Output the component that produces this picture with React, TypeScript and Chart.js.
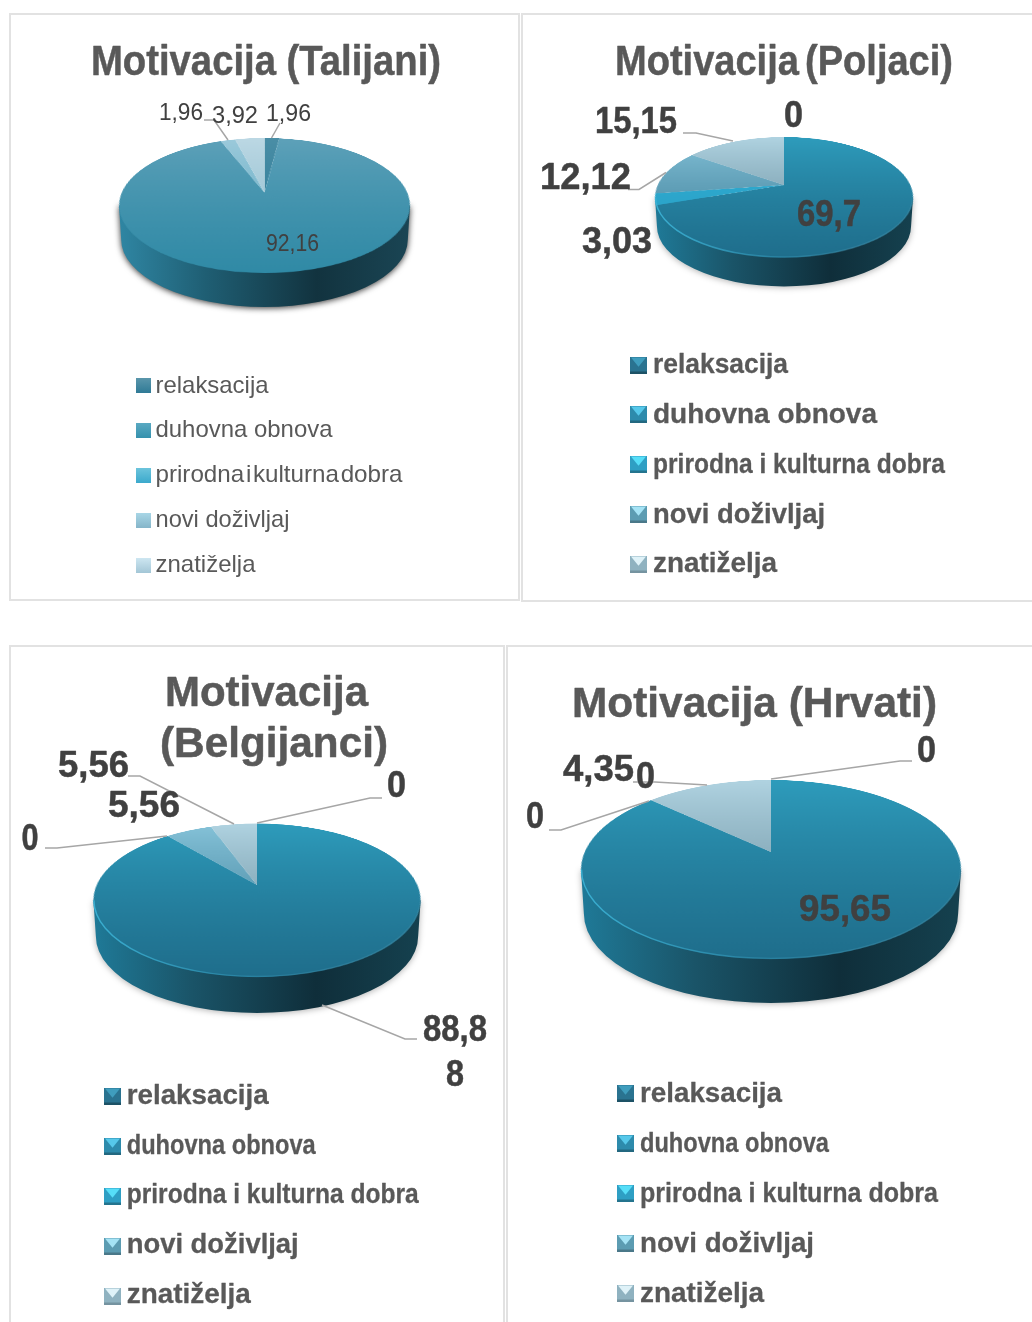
import React, { useEffect, useRef } from "react";
import { Chart, registerables } from "chart.js";

Chart.register(...registerables);

// ---------- data ----------
const categories = ["relaksacija", "duhovna obnova", "prirodna i kulturna dobra", "novi doživljaj", "znatiželja"];
const talijaniValues = [1.96, 92.16, 0, 1.96, 3.92];
const poljaciValues = [0, 69.7, 3.03, 12.12, 15.15];
const belgijanciValues = [0, 88.88, 0, 5.56, 5.56];
// The printed label says 4,35 / 95,65, but the wedge in the picture spans about 13 %;
// the slice follows the picture and the label text follows what is printed.
const hrvatiValues = [0, 86.96, 0, 0, 13.04];

const talijaniLabels = ["1,96", "92,16", "1,96", "3,92"];
const poljaciLabels = ["0", "69,7", "3,03", "12,12", "15,15"];
const belgijanciLabels = ["0", "88,8", "8", "0", "5,56", "5,56"];
const hrvatiLabels = ["0", "95,65", "0", "0", "4,35"];

// ---------- styles ----------
const FONT = '"Liberation Sans", Arial, sans-serif';
const SOFT = [
  ["#4a8ea6", "#2a7a96"],
  ["#5ea1b9", "#308aa6"],
  ["#4fb5d2", "#3a9fc0"],
  ["#9ccadb", "#5fa8c1"],
  ["#bcd8e4", "#8dbccd"],
];
const DEEP = [
  ["#2b7f9c", "#1c6480"],
  ["#2e9cbc", "#1f6e8c"],
  ["#2fb0d6", "#2a9fc4"],
  ["#86c3d9", "#3e7f99"],
  ["#b0d3e1", "#6a8f9f"],
];
const FLAT_MARK = [
  ["#5a96ab", "#2f7a96"],
  ["#5aa9c2", "#3591ad"],
  ["#6cc4dc", "#3ba9cc"],
  ["#a8d6e6", "#85b5c9"],
  ["#cde6f1", "#a3c6d6"],
];
const BEVEL_MARK = [
  ["#2a7390", "#3f9dbd", "#1d5266"],
  ["#2d8bac", "#56c8ea", "#236880"],
  ["#2e9fc4", "#56def8", "#24748e"],
  ["#5c9cb2", "#a5e3f5", "#4a7889"],
  ["#8fb2c0", "#dff2f8", "#7593a0"],
];

type Txt = { t: string; x: number; y: number; w: number; ws?: number };
type Panel = {
  box: number[];
  values: number[];
  palette: string[][];
  pie: { cx: number; top: number; bottom: number; apex: number; rx: number; depth: number };
  shadow: string;
  bevel: boolean;
  wall: string[];
  titles: Txt[];
  labelFont: string;
  heavy: number;
  labels: Txt[];
  leaders: number[][];
  legend: { markX: number; markY: number[]; size: number; textX: number; base: number[]; widths: number[]; font: string; squeezed: number; marks: string };
};

const titleFont = `bold 43px ${FONT}`;
const boldLabel = `bold 37px ${FONT}`;
const boldLegend = `bold 28px ${FONT}`;
const WALL_DEEP = ["#1f7a98", "#1a5468", "#0f2e3a", "#15414f"];
const WALL_SOFT = ["#2f86a3", "#1f5e73", "#12333f", "#1a4554"];

const panels: Panel[] = [
  {
    box: [9, 13, 511, 588],
    values: talijaniValues,
    palette: SOFT,
    pie: { cx: 264.5, top: 138, bottom: 273, apex: 192.5, rx: 145.5, depth: 34 },
    shadow: "rgba(0,0,0,0.8)",
    bevel: false,
    wall: WALL_SOFT,
    titles: [{ t: "Motivacija (Talijani)", x: 91, y: 75, w: 350 }],
    labelFont: `24px ${FONT}`,
    heavy: 0,
    labels: [
      { t: talijaniLabels[0], x: 159, y: 120, w: 44 },
      { t: talijaniLabels[3], x: 212, y: 123, w: 46 },
      { t: talijaniLabels[2], x: 266, y: 121, w: 45 },
      { t: talijaniLabels[1], x: 266, y: 251, w: 53 },
    ],
    leaders: [
      [204, 120, 214, 120, 228, 140],
      [280, 123, 271.5, 138],
    ],
    legend: {
      markX: 136,
      markY: [378, 423, 468, 513, 558],
      size: 15,
      textX: 155.5,
      base: [392.5, 437, 481.5, 526.5, 571.5],
      widths: [113, 177, 247, 134, 100],
      font: `24px ${FONT}`,
      squeezed: -5,
      marks: "flat",
    },
  },
  {
    box: [521, 13, 520, 589],
    values: poljaciValues,
    palette: DEEP,
    pie: { cx: 784, top: 137, bottom: 257.5, apex: 185, rx: 129, depth: 29 },
    shadow: "rgba(0,0,0,0.3)",
    bevel: true,
    wall: WALL_DEEP,
    titles: [{ t: "Motivacija (Poljaci)", x: 615, y: 75, w: 338, ws: -5 }],
    labelFont: boldLabel,
    heavy: 0.5,
    labels: [
      { t: poljaciLabels[4], x: 595, y: 133, w: 82 },
      { t: poljaciLabels[0], x: 784, y: 127, w: 19 },
      { t: poljaciLabels[3], x: 540, y: 189, w: 91 },
      { t: poljaciLabels[2], x: 582, y: 253, w: 70 },
      { t: poljaciLabels[1], x: 797, y: 225.5, w: 64 },
    ],
    leaders: [
      [683, 133, 696, 133, 733, 141],
      [628, 189.5, 639, 189.5, 666, 172.5],
    ],
    legend: {
      markX: 630,
      markY: [357, 406, 456, 506, 556],
      size: 17,
      textX: 653,
      base: [373, 423, 473, 523, 572],
      widths: [135, 224, 292, 172, 124],
      font: boldLegend,
      squeezed: 0,
      marks: "bevel",
    },
  },
  {
    box: [9, 645, 496, 700],
    values: belgijanciValues,
    palette: DEEP,
    pie: { cx: 257, top: 823.5, bottom: 977, apex: 885, rx: 163.6, depth: 36 },
    shadow: "rgba(0,0,0,0.3)",
    bevel: true,
    wall: WALL_DEEP,
    titles: [
      { t: "Motivacija", x: 165, y: 706, w: 203 },
      { t: "(Belgijanci)", x: 160, y: 756.5, w: 228 },
    ],
    labelFont: boldLabel,
    heavy: 0.5,
    labels: [
      { t: belgijanciLabels[4], x: 58, y: 776.5, w: 71 },
      { t: belgijanciLabels[5], x: 108, y: 816.5, w: 72 },
      { t: belgijanciLabels[0], x: 387, y: 796.5, w: 19 },
      { t: belgijanciLabels[3], x: 21.5, y: 849.5, w: 17 },
      { t: belgijanciLabels[1], x: 423, y: 1040.5, w: 64 },
      { t: belgijanciLabels[2], x: 446, y: 1085.5, w: 18 },
    ],
    leaders: [
      [128, 776, 140, 776, 234, 824],
      [382, 798, 370, 798, 257, 823],
      [45, 848, 57, 848, 167, 836],
      [417, 1039, 405, 1039, 322, 1005],
    ],
    legend: {
      markX: 104,
      markY: [1088, 1138, 1188, 1238, 1288],
      size: 17,
      textX: 126.7,
      base: [1104, 1154, 1203, 1253, 1303],
      widths: [142, 189, 292, 172, 124],
      font: boldLegend,
      squeezed: 0,
      marks: "bevel",
    },
  },
  {
    box: [506, 645, 540, 700],
    values: hrvatiValues,
    palette: DEEP,
    pie: { cx: 771, top: 780, bottom: 959, apex: 852, rx: 190, depth: 44 },
    shadow: "rgba(0,0,0,0.3)",
    bevel: true,
    wall: WALL_DEEP,
    titles: [{ t: "Motivacija (Hrvati)", x: 572, y: 716.5, w: 365 }],
    labelFont: boldLabel,
    heavy: 0.5,
    labels: [
      { t: hrvatiLabels[4], x: 563, y: 781, w: 71 },
      { t: hrvatiLabels[3], x: 636, y: 788, w: 19 },
      { t: hrvatiLabels[0], x: 917, y: 762, w: 19 },
      { t: hrvatiLabels[2], x: 526, y: 828, w: 18 },
      { t: hrvatiLabels[1], x: 799, y: 920.5, w: 92 },
    ],
    leaders: [
      [912, 761, 900, 761, 771, 779],
      [633, 782, 655, 782, 707, 785],
      [549, 830, 561, 830, 649, 801],
    ],
    legend: {
      markX: 617,
      markY: [1085, 1135, 1185, 1235, 1285],
      size: 17,
      textX: 640,
      base: [1102, 1152, 1202, 1252, 1301.5],
      widths: [142, 189, 298, 174, 124],
      font: boldLegend,
      squeezed: 0,
      marks: "bevel",
    },
  },
];

// ---------- drawing helpers ----------
function fitText(g: CanvasRenderingContext2D, item: Txt, font: string, color: string, heavy = 0) {
  g.save();
  g.font = font;
  g.fillStyle = color;
  g.strokeStyle = color;
  g.lineWidth = heavy;
  g.lineJoin = "round";
  g.textAlign = "left";
  g.textBaseline = "alphabetic";
  (g as any).wordSpacing = `${item.ws ?? 0}px`;
  const natural = g.measureText(item.t).width;
  g.translate(item.x, item.y);
  g.scale(item.w / natural, 1);
  g.fillText(item.t, 0, 0);
  if (heavy > 0) g.strokeText(item.t, 0, 0);
  g.restore();
}

function drawWall(g: CanvasRenderingContext2D, p: Panel) {
  const { cx, top, bottom, rx, depth } = p.pie;
  const cy = (top + bottom) / 2;
  const ry = (bottom - top) / 2;
  const rx2 = rx * 0.985;
  const cy2 = cy + depth;
  const grad = g.createLinearGradient(cx - rx, 0, cx + rx, 0);
  p.wall.forEach((c, i) => grad.addColorStop([0, 0.3, 0.68, 1][i], c));
  g.save();
  g.shadowColor = p.shadow;
  g.shadowBlur = 6;
  g.shadowOffsetY = 1;
  g.fillStyle = grad;
  g.beginPath();
  g.moveTo(cx - rx, cy);
  g.lineTo(cx + rx, cy);
  g.lineTo(cx + rx2, cy2);
  g.ellipse(cx, cy2, rx2, ry, 0, 0, Math.PI);
  g.closePath();
  g.fill();
  g.restore();
}

// Perspective view of the flat pie that Chart.js has just drawn: each output row
// samples one row of the flat pie, so the apex sits above the ellipse's centre.
function drawTopFace(g: CanvasRenderingContext2D, p: Panel, flat: HTMLCanvasElement, sx: number, sy: number, R: number) {
  const { cx, top, bottom, apex, rx } = p.pie;
  const up = apex - top;
  const dn = bottom - apex;
  const k = (dn - up) / (dn + up);
  const a = up * (1 + k);
  const b = rx * Math.sqrt(1 - k * k);
  const vAt = (y: number) => (y - apex) / (a + k * (y - apex));
  for (let y = Math.floor(top); y < Math.ceil(bottom); y++) {
    const v0 = vAt(y);
    const v1 = vAt(y + 1);
    const v = (v0 + v1) / 2;
    const s = 1 / (1 - k * v);
    const scale = (b / R) * s;
    g.drawImage(flat, 0, sy + v0 * R, flat.width, (v1 - v0) * R, cx - sx * scale, y, flat.width * scale, 1);
  }
}

function drawBevel(g: CanvasRenderingContext2D, p: Panel) {
  const { cx, top, bottom, rx } = p.pie;
  const grad = g.createLinearGradient(cx - rx, 0, cx + rx, 0);
  grad.addColorStop(0, "rgba(60,180,215,0.9)");
  grad.addColorStop(0.5, "rgba(60,170,205,0.3)");
  grad.addColorStop(1, "rgba(150,200,215,0.1)");
  g.save();
  g.strokeStyle = grad;
  g.lineWidth = 1.4;
  g.beginPath();
  g.ellipse(cx, (top + bottom) / 2, rx - 0.5, (bottom - top) / 2 - 0.5, 0, 0, Math.PI);
  g.stroke();
  g.restore();
}

function drawMark(g: CanvasRenderingContext2D, kind: string, i: number, x: number, y: number, s: number) {
  if (kind === "flat") {
    const c = FLAT_MARK[i];
    const gr = g.createLinearGradient(0, y, 0, y + s);
    gr.addColorStop(0, c[0]);
    gr.addColorStop(1, c[1]);
    g.fillStyle = gr;
    g.fillRect(x, y, s, s);
    return;
  }
  const [body, light, dark] = BEVEL_MARK[i];
  g.fillStyle = body;
  g.fillRect(x, y, s, s);
  g.fillStyle = light;
  g.beginPath();
  g.moveTo(x + 1, y + 0.5);
  g.lineTo(x + s - 1, y + 0.5);
  g.lineTo(x + s / 2, y + s * 0.58);
  g.closePath();
  g.fill();
  g.fillStyle = dark;
  g.fillRect(x, y + s - 2.5, s, 2.5);
}

function decorate(g: CanvasRenderingContext2D, p: Panel) {
  p.titles.forEach((t) => fitText(g, t, titleFont, "#595959", 0.5));
  g.save();
  g.strokeStyle = "#a6a6a6";
  g.lineWidth = 1.5;
  p.leaders.forEach((l) => {
    g.beginPath();
    g.moveTo(l[0], l[1]);
    for (let i = 2; i < l.length; i += 2) g.lineTo(l[i], l[i + 1]);
    g.stroke();
  });
  g.restore();
  p.labels.forEach((t) => fitText(g, t, p.labelFont, "#404040", p.heavy));
  const lg = p.legend;
  categories.forEach((name, i) => {
    drawMark(g, lg.marks, i, lg.markX, lg.markY[i], lg.size);
    const ws = i === 2 ? lg.squeezed : 0;
    fitText(g, { t: name, x: lg.textX, y: lg.base[i], w: lg.widths[i], ws }, lg.font, "#595959", p.heavy * 0.6);
  });
}

function PiePanel({ panel }: { panel: Panel }) {
  const ref = useRef<HTMLCanvasElement>(null);
  const [ox, oy, bw, bh] = panel.box;
  const W = Math.min(bw, 1032 - ox);
  const H = Math.min(bh, 1322 - oy);
  useEffect(() => {
    const { cx, rx } = panel.pie;
    const pad = (cx - ox) - rx;
    const stage = {
      id: "stage",
      afterDatasetsDraw(chart: any) {
        const g: CanvasRenderingContext2D = chart.ctx;
        const canvas: HTMLCanvasElement = chart.canvas;
        const arc = chart.getDatasetMeta(0).data[0];
        const flat = document.createElement("canvas");
        flat.width = canvas.width;
        flat.height = canvas.height;
        flat.getContext("2d")!.drawImage(canvas, 0, 0);
        g.save();
        g.setTransform(1, 0, 0, 1, 0, 0);
        g.clearRect(0, 0, canvas.width, canvas.height);
        g.translate(-ox, -oy);
        drawWall(g, panel);
        drawTopFace(g, panel, flat, arc.x, arc.y, arc.outerRadius);
        if (panel.bevel) drawBevel(g, panel);
        decorate(g, panel);
        g.restore();
      },
    };
    const chart = new Chart(ref.current!, {
      type: "pie",
      data: {
        labels: categories,
        datasets: [
          {
            data: panel.values,
            borderWidth: 0,
            backgroundColor: (c: any) => {
              const area = c.chart.chartArea;
              const pair = panel.palette[c.dataIndex ?? 0];
              if (!area) return pair[0];
              const gr = c.chart.ctx.createLinearGradient(0, area.top, 0, area.bottom);
              gr.addColorStop(0, pair[0]);
              gr.addColorStop(1, pair[1]);
              return gr;
            },
          },
        ],
      },
      options: {
        responsive: false,
        animation: false,
        devicePixelRatio: 1,
        layout: { padding: { left: pad, right: W - pad - 2 * rx, top: 0, bottom: H - 2 * rx } },
        plugins: { legend: { display: false }, title: { display: false }, tooltip: { enabled: false } },
      },
      plugins: [stage],
    } as any);
    return () => chart.destroy();
  }, [panel]);
  return (
    <>
      <div
        style={{
          position: "absolute",
          left: ox,
          top: oy,
          width: bw,
          height: bh,
          boxSizing: "border-box",
          border: "2px solid #e2e2e2",
          background: "#fff",
        }}
      />
      <canvas ref={ref} width={W} height={H} style={{ position: "absolute", left: ox, top: oy, width: W, height: H }} />
    </>
  );
}

export default function App() {
  return (
    <div style={{ position: "absolute", left: 0, top: 0, width: 1032, height: 1322, overflow: "hidden", background: "#fff" }}>
      {panels.map((p, i) => (
        <PiePanel key={i} panel={p} />
      ))}
    </div>
  );
}
